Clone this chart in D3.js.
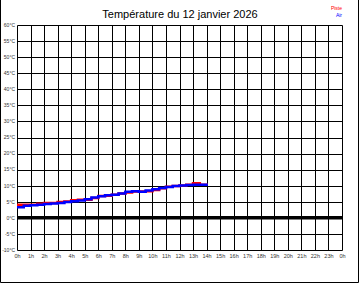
<!DOCTYPE html>
<html><head><meta charset="utf-8">
<script src="https://cdn.jsdelivr.net/npm/d3@7"></script>
<style>body{margin:0;background:#fff}svg{display:block}text{font-family:"Liberation Sans",Arial,sans-serif}</style>
</head><body><svg id="c" width="360" height="288"></svg>
<script>
const title = "Température du 12 janvier 2026";
const hourLabels = ["0h","1h","2h","3h","4h","5h","6h","7h","8h","9h","10h","11h","12h","13h","14h","15h","16h","17h","18h","19h","20h","21h","22h","23h","0h"];
const tempTicks = [-10,-5,0,5,10,15,20,25,30,35,40,45,50,55,60];
const times = [0,0.5,1,1.5,2,2.5,3,3.5,4,4.5,5,5.5,6,6.5,7,7.5,8,8.5,9,9.5,10,10.5,11,11.5,12,12.5,13,13.5,14];
const piste = [4.1,4.1,4.1,4.4,4.6,4.6,4.9,5.1,5.5,5.6,5.6,6.2,6.8,6.9,7.2,7.6,7.9,8.2,8.2,8.3,8.7,9.2,9.7,9.9,10.1,10.3,10.8,10.3,10.2];
const air   = [3.3,3.8,3.9,4.1,4.3,4.5,4.6,4.9,5.2,5.4,5.8,6.3,6.7,7.0,7.2,7.6,8.1,8.3,8.1,8.5,8.9,9.3,9.6,9.9,10.1,10.2,10.3,10.3,10.7];
const legend = [{name:"Piste",color:"#ff0000"},{name:"Air",color:"#0000ff"}];

const svg = d3.select("#c");
const x = d3.scaleLinear().domain([0,24]).range([17,342]);
const y = d3.scaleLinear().domain([-10,60]).range([250,25]);
const px = v => Math.round(v)+0.5;

// outer frame (left, right, bottom)
svg.append("path").attr("d","M0.5,0 V282.5 H358.5 V0").attr("fill","none").attr("stroke","#000");

// grid
const g = svg.append("g");
g.selectAll("line.v").data(d3.range(0,25)).join("line")
  .attr("x1",d=>px(x(d))).attr("x2",d=>px(x(d)))
  .attr("y1",px(y(60))).attr("y2",px(y(-10))).attr("stroke","#000");
g.selectAll("line.h").data(tempTicks).join("line")
  .attr("y1",d=>px(y(d))).attr("y2",d=>px(y(d)))
  .attr("x1",px(x(0))).attr("x2",px(x(24))).attr("stroke","#000");

// labels
svg.selectAll("text.yl").data(tempTicks).join("text")
  .attr("x",15).attr("y",d=>y(d)+1.8).attr("text-anchor","end")
  .attr("font-size",5).attr("fill","#333").text(d=>d+"°C");
svg.selectAll("text.xl").data(hourLabels).join("text")
  .attr("x",(d,i)=>x(i)+0.5).attr("y",257.5).attr("text-anchor","middle")
  .attr("font-size",5.5).attr("fill","#333").text(d=>d);

// series
const line = d3.line().x((d,i)=>x(times[i])).y(d=>y(d)).curve(d3.curveStepAfter);
svg.append("path").attr("d",line(piste)).attr("fill","none").attr("stroke",legend[0].color).attr("stroke-width",2.5);
svg.append("path").attr("d",line(air)).attr("fill","none").attr("stroke",legend[1].color).attr("stroke-width",2.5);

// zero line
svg.append("line").attr("x1",x(0)).attr("x2",x(24)+0.5).attr("y1",y(0)).attr("y2",y(0)).attr("stroke","#000").attr("stroke-width",3.5);

// title
svg.append("text").attr("x",180).attr("y",18).attr("text-anchor","middle").attr("font-size",11).attr("fill","#000").text(title);

// legend
svg.selectAll("text.lg").data(legend).join("text")
  .attr("x",342).attr("y",(d,i)=>9.5+i*7).attr("text-anchor","end")
  .attr("font-size",5).attr("fill",d=>d.color).text(d=>d.name);
</script></body></html>
